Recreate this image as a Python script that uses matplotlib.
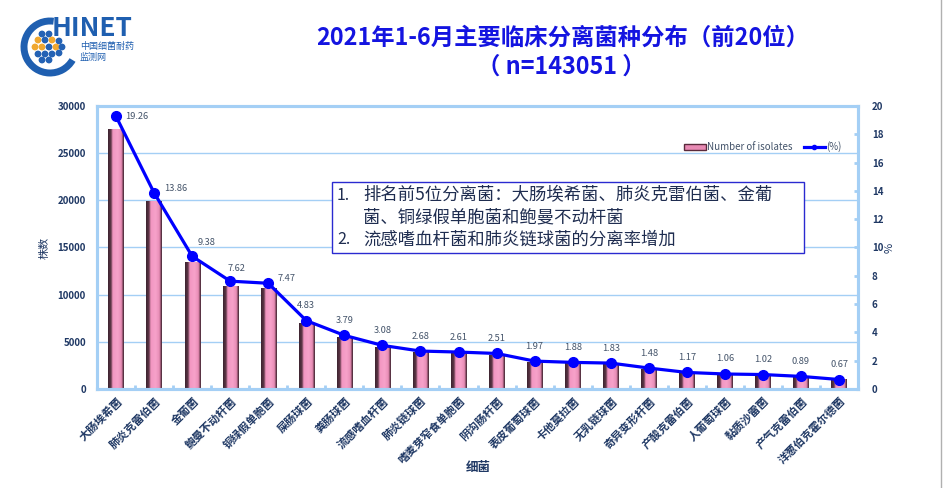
import numpy as np
import matplotlib
matplotlib.use('Agg')
import matplotlib.pyplot as plt
from matplotlib.colors import LinearSegmentedColormap
from matplotlib.patches import Rectangle, Arc, Circle
from matplotlib.lines import Line2D

plt.rcParams['font.family'] = ['Noto Sans CJK SC', 'DejaVu Sans']

# data
species = ['大肠埃希菌', '肺炎克雷伯菌', '金葡菌', '鲍曼不动杆菌', '铜绿假单胞菌',
           '屎肠球菌', '粪肠球菌', '流感嗜血杆菌', '肺炎链球菌', '嗜麦芽窄食单胞菌',
           '阴沟肠杆菌', '表皮葡萄球菌', '卡他莫拉菌', '无乳链球菌', '奇异变形杆菌',
           '产酸克雷伯菌', '人葡萄球菌', '黏质沙雷菌', '产气克雷伯菌', '洋葱伯克霍尔德菌']
counts = [27552, 19827, 13418, 10900, 10686, 6909, 5422, 4406, 3834, 3734,
          3591, 2818, 2689, 2618, 2117, 1674, 1516, 1459, 1273, 958]
percent = [19.26, 13.86, 9.38, 7.62, 7.47, 4.83, 3.79, 3.08, 2.68, 2.61,
           2.51, 1.97, 1.88, 1.83, 1.48, 1.17, 1.06, 1.02, 0.89, 0.67]

navy = '#1f3864'
spine_blue = '#a4cff5'
line_blue = '#0000ff'

fig = plt.figure(figsize=(9.43, 4.88), dpi=100)
ax = fig.add_axes([0.1029, 0.2029, 0.807, 0.58])
ax2 = ax.twinx()

x = np.arange(len(species))
w = 0.4

# gradient bars (cylinder look)
bar_cmap = LinearSegmentedColormap.from_list(
    'cyl', [(0.0, '#3c2430'), (0.18, '#5e3546'), (0.3, '#f296c1'), (0.6, '#f7a2ca'),
            (0.85, '#e88db6'), (0.93, '#8a4e66'), (1.0, '#3c2430')])
grad = np.linspace(0, 1, 64).reshape(1, -1)
for xi, c in zip(x, counts):
    ax.imshow(grad, cmap=bar_cmap, aspect='auto', extent=(xi - w / 2, xi + w / 2, 0, c),
              zorder=2, interpolation='bilinear')

ax.set_xlim(-0.5, len(species) - 0.5)
ax.set_ylim(0, 30000)
ax.set_yticks(np.arange(0, 30001, 5000))
ax.grid(axis='y', color=spine_blue, linewidth=1)
ax.set_axisbelow(True)

ax.set_xticks(x)
ax.set_xticklabels(species, rotation=45, ha='right', va='top', rotation_mode='anchor',
                   fontsize=8, fontweight='bold', color=navy)
ax.set_xticks(x[:-1] + 0.5, minor=True)
ax.tick_params(axis='x', which='major', length=0, pad=4)
ax.tick_params(axis='x', which='minor', direction='in', length=3, width=2, color=spine_blue)
ax.tick_params(axis='y', length=0, labelsize=7, labelcolor=navy, pad=8)
for lab in ax.get_yticklabels():
    lab.set_fontweight('bold')

# line on secondary axis
ax2.plot(x, percent, color=line_blue, linewidth=2.3, marker='o', markersize=7, zorder=5)
ax2.set_ylim(0, 20)
ax2.set_yticks(np.arange(0, 21, 2))
ax2.tick_params(axis='y', direction='in', length=3, width=2, color=spine_blue,
                labelsize=7, labelcolor=navy, pad=10)
for lab in ax2.get_yticklabels():
    lab.set_fontweight('bold')

offsets = [(21, 0), (22, -4), (14, -14), (6, -13), (18, -5)]
for i, p in enumerate(percent):
    dx, dy = offsets[i] if i < len(offsets) else (0, -15)
    ax2.annotate(f'{p:.2f}', (x[i], p), textcoords='offset pixels', xytext=(dx, -dy),
                 ha='center', va='center', fontsize=6.7, color='#44546a', zorder=6)

for a in (ax, ax2):
    for s in a.spines.values():
        s.set_color(spine_blue)
        s.set_linewidth(2.2)

ax.set_ylabel('株数', fontsize=8, color=navy, labelpad=6)
ax2.set_ylabel('%', fontsize=8, color=navy, labelpad=1)
fig.text(0.507, 0.041, '细菌', fontsize=9, fontweight='bold', color=navy, ha='center', va='center')

# legend
h_bar = Rectangle((0, 0), 1, 1, facecolor='#e88ab4', edgecolor='#5a2a3c', linewidth=1)
h_line = Line2D([], [], color=line_blue, linewidth=2.3, marker='o', markersize=3)
ax2.legend([h_bar, h_line], ['Number of isolates', '(%)'], loc='center left',
           bbox_to_anchor=(0.76, 0.855), ncol=2, frameon=False, fontsize=7,
           handlelength=2.2, handletextpad=0.1, columnspacing=1.2, labelcolor='#44546a')

# text box
fig.patches.append(Rectangle((332 / 943, 1 - 253 / 488), 472 / 943, 71 / 488,
                             transform=fig.transFigure, fill=True, facecolor='white',
                             edgecolor='#2a2ad0', linewidth=1, zorder=10))
tcol = '#1f2d50'
fig.text(337 / 943, 1 - 195 / 488, '1.', fontsize=11.5, color=tcol, va='center', zorder=11)
fig.text(363 / 943, 1 - 195 / 488, '排名前5位分离菌：大肠埃希菌、肺炎克雷伯菌、金葡',
         fontsize=12.5, color=tcol, va='center', zorder=11)
fig.text(363 / 943, 1 - 217 / 488, '菌、铜绿假单胞菌和鲍曼不动杆菌',
         fontsize=12.5, color=tcol, va='center', zorder=11)
fig.text(337 / 943, 1 - 240 / 488, '2.', fontsize=11.5, color=tcol, va='center', zorder=11)
fig.text(363 / 943, 1 - 240 / 488, '流感嗜血杆菌和肺炎链球菌的分离率增加',
         fontsize=12.5, color=tcol, va='center', zorder=11)

# title
title_blue = '#1414e0'
fig.text(563 / 943, 1 - 38 / 488, '2021年1-6月主要临床分离菌种分布（前20位）',
         fontsize=16.8, fontweight='bold', color=title_blue, ha='center', va='center')
fig.text(561 / 943, 1 - 67 / 488, '（ n=143051 ）',
         fontsize=16.8, fontweight='bold', color=title_blue, ha='center', va='center')

# logo
lax = fig.add_axes([0, 1 - 80 / 488, 200 / 943, 80 / 488])
lax.set_xlim(0, 200)
lax.set_ylim(80, 0)
lax.axis('off')
lax.add_patch(Arc((50, 47), 52, 52, theta1=30, theta2=278, color='#1f5fb0', linewidth=5))
logo_dots = [(42, 34), (49, 34), (38, 40), (45, 40), (52, 40), (59, 41),
             (35, 47), (42, 47), (49, 47), (56, 47), (62, 47),
             (38, 54), (45, 54), (52, 54), (59, 53), (42, 60), (49, 60)]
orange = {(38, 40), (52, 40), (42, 47), (56, 47), (35, 47)}
for d in logo_dots:
    lax.add_patch(Circle(d, 2.7, color='#f0a830' if d in orange else '#2462b4'))
lax.text(52, 29, 'HINET', fontsize=19, fontweight='bold', style='italic',
         color='#1f5fb0', va='center', ha='left')
lax.text(80, 46, '中国细菌耐药', fontsize=6.5, color='#1f5fb0', va='center', ha='left')
lax.text(80, 57, '监测网', fontsize=6.5, color='#1f5fb0', va='center', ha='left')

fig.add_artist(Line2D([941 / 943, 941 / 943], [0, 1], color='#b0b0b0', linewidth=1))

fig.savefig('out.png', dpi=100, facecolor='white')
